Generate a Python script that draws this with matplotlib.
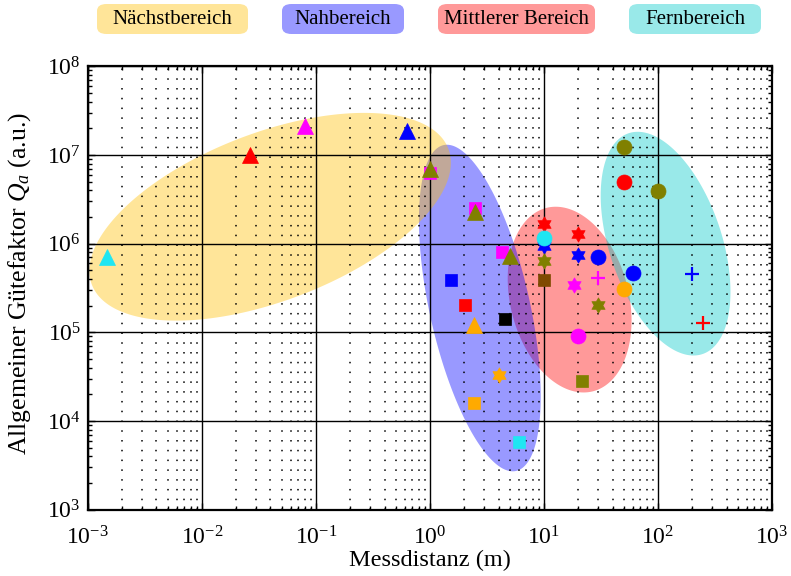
import numpy as np
import matplotlib
matplotlib.use('Agg')
import matplotlib.pyplot as plt
from matplotlib.path import Path
from matplotlib.patches import FancyBboxPatch

plt.rcParams['font.family'] = ['Liberation Serif', 'DejaVu Serif']
plt.rcParams['mathtext.fontset'] = 'custom'
plt.rcParams['mathtext.rm'] = 'Liberation Serif'
plt.rcParams['mathtext.it'] = 'Liberation Serif:italic'

# Messpunkte, nach Markerform
tri_x = [0.00146, 0.0265, 0.080, 0.63, 1.0, 2.5, 5.0, 2.43]
tri_y = [7.1e5, 1.0e7, 2.1e7, 1.87e7, 7.0e6, 2.3e6, 7.3e5, 1.22e5]
tri_c = ['cyan', 'red', 'magenta', 'blue', 'olive', 'olive', 'olive', 'orange']

sq_x = [1.0, 2.5, 4.27, 1.53, 2.02, 4.54, 2.43, 6.0, 10.0, 21.5]
sq_y = [6.2e6, 2.5e6, 8.1e5, 3.9e5, 2.06e5, 1.43e5, 1.58e4, 5.8e3, 3.9e5, 2.8e4]
sq_c = ['magenta', 'magenta', 'magenta', 'blue', 'red', 'black', 'orange', 'cyan', 'brown', 'olive']

star_x = [4.0, 10.0, 10.0, 10.0, 20.0, 20.0, 18.2, 30.0]
star_y = [3.27e4, 1.68e6, 9.5e5, 6.3e5, 1.3e6, 7.5e5, 3.45e5, 2.06e5]
star_c = ['orange', 'red', 'blue', 'olive', 'red', 'blue', 'magenta', 'olive']

circ_x = [10.0, 30.0, 20.0, 50.0, 60.0, 50.0, 50.0, 100.0]
circ_y = [1.17e6, 7.1e5, 9.0e4, 3.1e5, 4.7e5, 1.24e7, 4.9e6, 3.95e6]
circ_c = ['cyan', 'blue', 'magenta', 'orange', 'blue', 'olive', 'red', 'olive']

plus_x = [30.0, 200.0, 250.0]
plus_y = [4.1e5, 4.5e5, 1.26e5]
plus_c = ['magenta', 'blue', 'red']

# Bereiche (Ellipsen im log-log Raum)
reg_names = ['Nächstbereich', 'Nahbereich', 'Mittlerer Bereich', 'Fernbereich']
reg_cx = [0.0397, 2.74, 16.8, 116.6]
reg_cy = [2.01e6, 1.88e5, 2.34e5, 1.0e6]
reg_wx = [1.585, 0.534, 0.543, 0.569]
reg_wy = [1.171, 1.841, 1.047, 1.261]
reg_rho = [0.52, -0.54, -0.225, -0.43]
reg_col = ['#FFC000', '#0000FF', '#FF0000', '#00C8C8']

colors = {'cyan': '#1FE6F2', 'red': '#FF0000', 'magenta': '#FF00FF',
          'blue': '#0000FF', 'olive': '#808000', 'orange': '#FFAA00',
          'black': '#000000', 'brown': '#7F4A00'}

fig = plt.figure(figsize=(7.91, 5.76), dpi=100)
ax = fig.add_axes([0.111, 0.115, 0.865, 0.77])
ax.set_xscale('log')
ax.set_yscale('log')

t = np.linspace(0, 2 * np.pi, 300)
for i in [2, 3, 1, 0]:
    lx = np.log10(reg_cx[i]) + reg_wx[i] * np.cos(t)
    ly = np.log10(reg_cy[i]) + reg_wy[i] * (reg_rho[i] * np.cos(t) + np.sqrt(1 - reg_rho[i]**2) * np.sin(t))
    ax.fill(10**lx, 10**ly, color=reg_col[i], alpha=0.4, lw=0, zorder=1)

hexagram = Path.unit_regular_star(6, 0.577)

def punkte(xs, ys, cs, marker, ms, mew=0.5):
    for x, y, c in zip(xs, ys, cs):
        col = colors[c]
        ax.plot(x, y, marker=marker, ms=ms, color=col, mfc=col, mec=col, mew=mew, ls='none', zorder=4)

punkte(sq_x, sq_y, sq_c, 's', 8.8)
punkte(tri_x, tri_y, tri_c, '^', 12)
punkte(star_x, star_y, star_c, hexagram, 11)
punkte(circ_x, circ_y, circ_c, 'o', 10.8)
punkte(plus_x, plus_y, plus_c, '+', 9.5, mew=1.6)

ax.set_xlim(1e-3, 1e3)
ax.set_ylim(1e3, 1e8)
ax.grid(which='major', color='k', ls='-', lw=1.0, zorder=2)
ax.grid(which='minor', axis='x', color='k', ls=(0, (1, 5.4)), lw=1.1, zorder=2)
ax.set_axisbelow(False)
ax.tick_params(which='both', direction='in', top=True, right=True, labelsize=17)
ax.tick_params(which='major', length=5, width=1)
ax.tick_params(which='minor', length=3, width=1)
ax.tick_params(axis='x', pad=12)
ax.tick_params(axis='y', pad=5)
for s in ax.spines.values():
    s.set_linewidth(1.6)

ax.set_xlabel('Messdistanz (m)', fontsize=17.5, labelpad=0)
ax.set_ylabel('Allgemeiner Gütefaktor $Q_a$ (a.u.)', fontsize=18.5)
ax.yaxis.set_label_coords(-0.08, 0.509)

# Legende als Kästchen oben
box_x0 = [97, 282, 438, 629]
box_x1 = [248, 404, 595, 761]
W, H = 791, 576
for i, name in enumerate(reg_names):
    x0 = box_x0[i] / W
    w = (box_x1[i] - box_x0[i]) / W
    y0 = 1 - 34 / H
    h = 30 / H
    fig.patches.append(FancyBboxPatch((x0, y0), w, h, boxstyle='round,pad=0,rounding_size=0.012',
                                      transform=fig.transFigure, fc=reg_col[i], alpha=0.4, lw=0))
    fig.text(x0 + w / 2, y0 + h / 2, name, ha='center', va='center', fontsize=15)

fig.savefig('out.png', dpi=100)
